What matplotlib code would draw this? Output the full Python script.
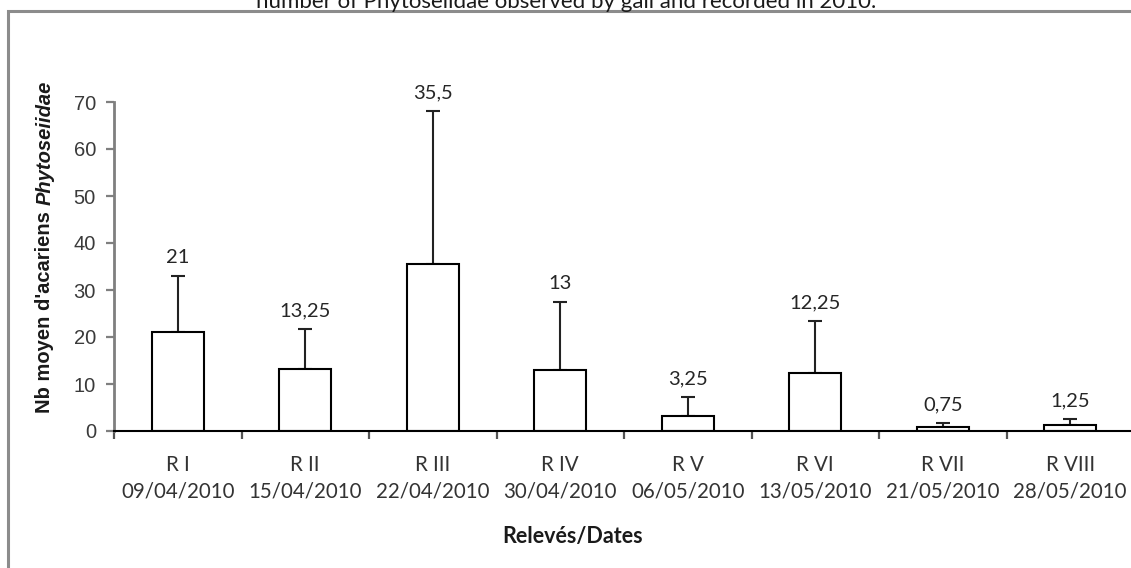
import matplotlib
matplotlib.use("Agg")
import matplotlib.pyplot as plt
import numpy as np

# mean number of Phytoseiidae per gall for each survey, with upper error
releves = ["R I", "R II", "R III", "R IV", "R V", "R VI", "R VII", "R VIII"]
dates = ["09/04/2010", "15/04/2010", "22/04/2010", "30/04/2010",
         "06/05/2010", "13/05/2010", "21/05/2010", "28/05/2010"]
moyennes = [21, 13.25, 35.5, 13, 3.25, 12.25, 0.75, 1.25]
ecarts = [12, 8.5, 32.6, 14.5, 4, 11.2, 1, 1.3]

calibri_like = ["Lato", "DejaVu Sans"]
arial = ["Liberation Sans", "DejaVu Sans"]

fig = plt.figure(figsize=(11.31, 5.68), dpi=100)
fig.patch.set_facecolor("white")

# grey chart-area border
border = plt.Rectangle((8 / 1131, -0.05), 1.1, 1 - 11 / 568 + 0.05,
                       transform=fig.transFigure, fill=False,
                       edgecolor="#8c8c8c", lw=2.2, zorder=0)
fig.add_artist(border)

# title, partly cut off at the top
fig.text(566 / 1131, 1 - 8 / 568,
         "number of Phytoseiidae observed by gall and recorded in 2010.",
         ha="center", va="baseline", fontsize=16, family=calibri_like,
         color="#1a1a1a")

ax = fig.add_axes([114 / 1131, 1 - 431 / 568, 1020 / 1131, 329 / 568])
x = np.arange(len(releves))
ax.bar(x, moyennes, width=0.41, color="white", edgecolor="black",
       linewidth=1.5, zorder=2)
ax.errorbar(x, moyennes, yerr=[np.zeros(len(ecarts)), ecarts], fmt="none",
            ecolor="#222222", elinewidth=1.5, capsize=5, capthick=1.5,
            zorder=1)

for xi, m, e in zip(x, moyennes, ecarts):
    ax.annotate(f"{m:g}".replace(".", ","), (xi, m + e),
                xytext=(0, 7), textcoords="offset points",
                ha="center", va="bottom", fontsize=14.5,
                family=calibri_like, color="#262626")

ax.set_xlim(-0.5, len(releves) - 0.5)
ax.set_ylim(0, 70)
ax.set_yticks(range(0, 71, 10))
ax.tick_params(axis="y", direction="out", length=6, width=1.6,
               color="#7f7f7f", pad=7, labelsize=14.5, labelcolor="#3a3a3a")
for lab in ax.get_yticklabels():
    lab.set_family(arial)

ax.set_xticks(x)
ax.set_xticklabels([f"{r}\n{d}" for r, d in zip(releves, dates)],
                   family=calibri_like, fontsize=14.8, color="#333333",
                   linespacing=1.4)
ax.set_xticks(np.arange(-0.5, len(releves)), minor=True)
ax.tick_params(axis="x", which="major", length=0, pad=17)
ax.tick_params(axis="x", which="minor", direction="out", length=6,
               width=1.6, color="#555555")

for s in ["top", "right"]:
    ax.spines[s].set_visible(False)
ax.spines["left"].set_color("#7f7f7f")
ax.spines["left"].set_linewidth(2)
ax.spines["bottom"].set_color("black")
ax.spines["bottom"].set_linewidth(1.5)
ax.spines["bottom"].set_zorder(3)

ax.set_xlabel("Relevés/Dates", family=calibri_like, fontweight="bold",
              fontsize=15.5, color="#1a1a1a")
ax.xaxis.set_label_coords((573 - 114) / 1020, (431 - 526) / 329)

# y label: plain part then italic family name, stacked upwards
fig.canvas.draw()
renderer = fig.canvas.get_renderer()
bold_sans = ["Liberation Sans", "DejaVu Sans"]
t1 = fig.text(45 / 1131, 1 - 413 / 568, "Nb moyen d'acariens ",
              rotation=90, ha="center", va="bottom", fontsize=14.5,
              fontweight="bold", family=bold_sans, color="#1a1a1a")
bb = t1.get_window_extent(renderer).transformed(fig.transFigure.inverted())
fig.text(45 / 1131, bb.y1, "Phytoseiidae", rotation=90, ha="center",
         va="bottom", fontsize=14.5, fontweight="bold", style="italic",
         family=bold_sans, color="#1a1a1a")

fig.savefig("out.png", dpi=100)
